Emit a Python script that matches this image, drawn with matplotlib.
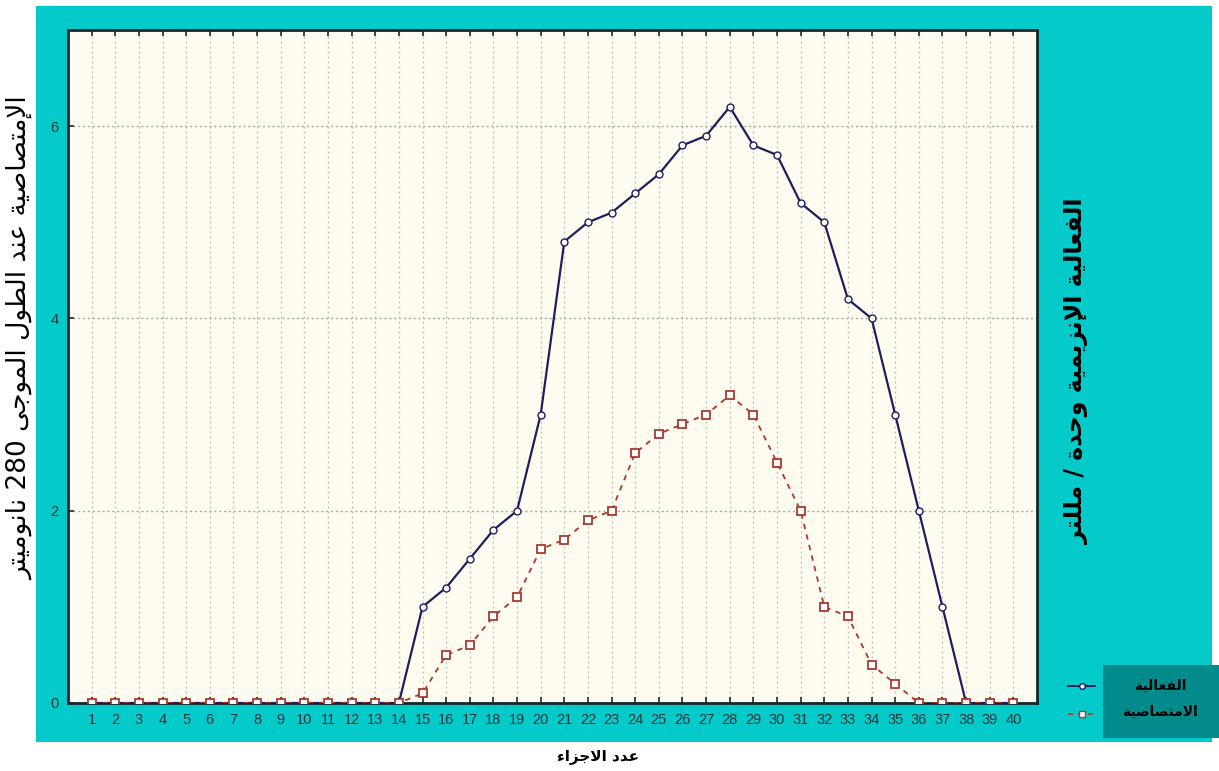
import numpy as np
import matplotlib
matplotlib.use("Agg")
import matplotlib.pyplot as plt
from matplotlib.patches import Rectangle
from matplotlib.lines import Line2D

# ---------------------------------------------------------------- data
fractions = list(range(1, 41))
activity = [0, 0, 0, 0, 0, 0, 0, 0, 0, 0, 0, 0, 0, 0,
            1.0, 1.2, 1.5, 1.8, 2.0, 3.0, 4.8, 5.0, 5.1, 5.3, 5.5, 5.8, 5.9,
            6.2, 5.8, 5.7, 5.2, 5.0, 4.2, 4.0, 3.0, 2.0, 1.0, 0, 0, 0]
absorbance = [0, 0, 0, 0, 0, 0, 0, 0, 0, 0, 0, 0, 0, 0,
              0.1, 0.5, 0.6, 0.9, 1.1, 1.6, 1.7, 1.9, 2.0, 2.6, 2.8, 2.9, 3.0,
              3.2, 3.0, 2.5, 2.0, 1.0, 0.9, 0.4, 0.2, 0, 0, 0, 0, 0]
y_ticks = [0, 2, 4, 6]

label_activity = "الفعالية"
label_absorbance = "الامتصاصية"
x_title = "عدد الاجزاء"
y_title_left = "الإمتصاصية عند الطول الموجى 280 نانوميتر"
y_title_right = "الفعالية الإنزيمية وحدة / مللتر"

# ------------------------------------------------ Arabic shaping helper
# forms: isolated, final, initial, medial
_FORMS = {
    '\u0621': ('\uFE80', None, None, None),
    '\u0622': ('\uFE81', '\uFE82', None, None),
    '\u0623': ('\uFE83', '\uFE84', None, None),
    '\u0624': ('\uFE85', '\uFE86', None, None),
    '\u0625': ('\uFE87', '\uFE88', None, None),
    '\u0626': ('\uFE89', '\uFE8A', '\uFE8B', '\uFE8C'),
    '\u0627': ('\uFE8D', '\uFE8E', None, None),
    '\u0628': ('\uFE8F', '\uFE90', '\uFE91', '\uFE92'),
    '\u0629': ('\uFE93', '\uFE94', None, None),
    '\u062A': ('\uFE95', '\uFE96', '\uFE97', '\uFE98'),
    '\u062B': ('\uFE99', '\uFE9A', '\uFE9B', '\uFE9C'),
    '\u062C': ('\uFE9D', '\uFE9E', '\uFE9F', '\uFEA0'),
    '\u062D': ('\uFEA1', '\uFEA2', '\uFEA3', '\uFEA4'),
    '\u062E': ('\uFEA5', '\uFEA6', '\uFEA7', '\uFEA8'),
    '\u062F': ('\uFEA9', '\uFEAA', None, None),
    '\u0630': ('\uFEAB', '\uFEAC', None, None),
    '\u0631': ('\uFEAD', '\uFEAE', None, None),
    '\u0632': ('\uFEAF', '\uFEB0', None, None),
    '\u0633': ('\uFEB1', '\uFEB2', '\uFEB3', '\uFEB4'),
    '\u0634': ('\uFEB5', '\uFEB6', '\uFEB7', '\uFEB8'),
    '\u0635': ('\uFEB9', '\uFEBA', '\uFEBB', '\uFEBC'),
    '\u0636': ('\uFEBD', '\uFEBE', '\uFEBF', '\uFEC0'),
    '\u0637': ('\uFEC1', '\uFEC2', '\uFEC3', '\uFEC4'),
    '\u0638': ('\uFEC5', '\uFEC6', '\uFEC7', '\uFEC8'),
    '\u0639': ('\uFEC9', '\uFECA', '\uFECB', '\uFECC'),
    '\u063A': ('\uFECD', '\uFECE', '\uFECF', '\uFED0'),
    '\u0641': ('\uFED1', '\uFED2', '\uFED3', '\uFED4'),
    '\u0642': ('\uFED5', '\uFED6', '\uFED7', '\uFED8'),
    '\u0643': ('\uFED9', '\uFEDA', '\uFEDB', '\uFEDC'),
    '\u0644': ('\uFEDD', '\uFEDE', '\uFEDF', '\uFEE0'),
    '\u0645': ('\uFEE1', '\uFEE2', '\uFEE3', '\uFEE4'),
    '\u0646': ('\uFEE5', '\uFEE6', '\uFEE7', '\uFEE8'),
    '\u0647': ('\uFEE9', '\uFEEA', '\uFEEB', '\uFEEC'),
    '\u0648': ('\uFEED', '\uFEEE', None, None),
    '\u0649': ('\uFEEF', '\uFEF0', None, None),
    '\u064A': ('\uFEF1', '\uFEF2', '\uFEF3', '\uFEF4'),
}
_LAM_ALEF = {
    '\u0627': ('\uFEFB', '\uFEFC'),
    '\u0623': ('\uFEF7', '\uFEF8'),
    '\u0625': ('\uFEF9', '\uFEFA'),
    '\u0622': ('\uFEF5', '\uFEF6'),
}


def _dual(ch):
    f = _FORMS.get(ch)
    return f is not None and f[2] is not None


def _joins(ch):
    f = _FORMS.get(ch)
    return f is not None and f[1] is not None


def shape_rtl(text):
    chars = list(text)
    out = []
    i = 0
    n = len(chars)
    while i < n:
        ch = chars[i]
        if ch not in _FORMS:
            out.append(ch)
            i += 1
            continue
        prev = chars[i - 1] if i > 0 else ''
        joined_prev = _dual(prev)
        if ch == '\u0644' and i + 1 < n and chars[i + 1] in _LAM_ALEF:
            iso, fin = _LAM_ALEF[chars[i + 1]]
            out.append(fin if joined_prev else iso)
            i += 2
            continue
        nxt = chars[i + 1] if i + 1 < n else ''
        joined_next = _dual(ch) and _joins(nxt)
        iso, fin, ini, med = _FORMS[ch]
        if joined_prev and joined_next:
            out.append(med)
        elif joined_prev:
            out.append(fin)
        elif joined_next:
            out.append(ini)
        else:
            out.append(iso)
        i += 1
    # visual order: reverse, keeping digit runs left-to-right
    rev = ''.join(out)[::-1]
    result, run = [], []
    for c in rev:
        if c.isdigit():
            run.append(c)
        else:
            if run:
                result.extend(run[::-1])
                run = []
            result.append(c)
    if run:
        result.extend(run[::-1])
    return ''.join(result)


# ---------------------------------------------------------------- style
plt.rcParams['font.family'] = ['DejaVu Sans']
W, H = 1219, 771
fig = plt.figure(figsize=(W / 100, H / 100), dpi=100, facecolor='white')

panel_color = '#04CACA'
fig.patches.append(Rectangle((36 / W, 1 - 742 / H), (1212 - 36) / W, (742 - 6) / H,
                             transform=fig.transFigure, facecolor=panel_color,
                             edgecolor='none', zorder=-5))

ax = fig.add_axes([68 / W, 1 - 703 / H, (1037 - 68) / W, (703 - 30) / H])
ax.set_facecolor('#FEFCF1')
ax.set_xlim(0, 41)
ax.set_ylim(0, 7)

ax.set_xticks(fractions)
ax.set_xticklabels([str(v) for v in fractions])
ax.set_yticks(y_ticks)
ax.set_yticklabels([str(v) for v in y_ticks])
ax.tick_params(axis='both', which='major', direction='in', length=4, width=1.2,
               color='#1a2a2a', labelsize=10.5, labelcolor='#1d3540', pad=7,
               top=True, right=False)
for lab in ax.get_xticklabels() + ax.get_yticklabels():
    lab.set_family('Liberation Sans')

ax.grid(axis='x', color='#bdbdb3', linestyle=(0, (1.5, 2.5)), linewidth=0.9)
ax.grid(axis='y', color='#a8a8a0', linestyle=(0, (1.5, 2.0)), linewidth=1.0)
for sp in ax.spines.values():
    sp.set_color('#15262a')
    sp.set_linewidth(2.0)

navy = '#1e1e5e'
brick = '#a83a30'
ax.plot(fractions, activity, color=navy, linestyle='-', linewidth=1.6,
        marker='o', markersize=5, markerfacecolor='white', markeredgecolor=navy,
        markeredgewidth=1.0, zorder=4)
ax.plot(fractions, absorbance, color=brick, linestyle=(0, (3, 3)), linewidth=1.3,
        marker='s', markersize=6, markerfacecolor='white', markeredgecolor=brick,
        markeredgewidth=1.3, zorder=5)

# ---------------------------------------------------------------- titles
fig.text(20 / W, 1 - 338 / H, shape_rtl(y_title_left), rotation=90,
         ha='center', va='center', fontsize=19, color='black')
fig.text(1077 / W, 1 - 371 / H, shape_rtl(y_title_right), rotation=90,
         ha='center', va='center', fontsize=17, fontweight='bold', color='black')
fig.text(598 / W, 1 - 757 / H, shape_rtl(x_title), ha='center', va='center',
         fontsize=11, fontweight='bold', color='black')

# ---------------------------------------------------------------- legend
fig.patches.append(Rectangle((1103 / W, 1 - 738 / H), (1219 - 1103) / W, (738 - 665) / H,
                             transform=fig.transFigure, facecolor='#038B8B',
                             edgecolor='none', zorder=1))
fig.text(1160 / W, 1 - 686 / H, shape_rtl(label_activity), ha='center', va='center',
         fontsize=10, fontweight='bold', color='black')
fig.text(1160 / W, 1 - 712 / H, shape_rtl(label_absorbance), ha='center', va='center',
         fontsize=10, fontweight='bold', color='black')
fig.lines.append(Line2D([1068 / W, 1095 / W], [1 - 686 / H, 1 - 686 / H],
                        transform=fig.transFigure, color=navy, linewidth=1.4))
fig.lines.append(Line2D([1081.5 / W], [1 - 686 / H], transform=fig.transFigure,
                        marker='o', markersize=4, markerfacecolor='white',
                        markeredgecolor=navy, linestyle='none'))
fig.lines.append(Line2D([1068 / W, 1095 / W], [1 - 714 / H, 1 - 714 / H],
                        transform=fig.transFigure, color=brick, linewidth=1.2,
                        linestyle=(0, (3, 3))))
fig.lines.append(Line2D([1081.5 / W], [1 - 714 / H], transform=fig.transFigure,
                        marker='s', markersize=5, markerfacecolor='white',
                        markeredgecolor=brick, linestyle='none'))

fig.savefig('out.png', dpi=100, facecolor='white')
